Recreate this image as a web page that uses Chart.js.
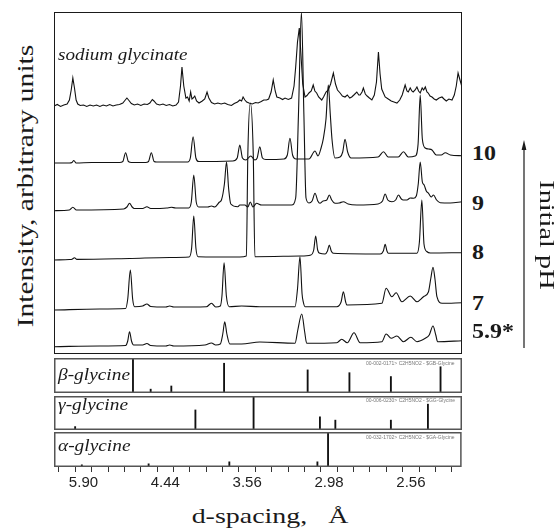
<!DOCTYPE html>
<html>
<head>
<meta charset="utf-8">
<script src="https://cdn.jsdelivr.net/npm/chart.js@4.4.1/dist/chart.umd.min.js"></script>
<style>
  html, body { margin: 0; padding: 0; background: #fff; }
  #page { position: relative; width: 559px; height: 531px; overflow: hidden;
          font-family: "Liberation Serif", "Times New Roman", serif; color: #1a1a1a; }
  canvas { position: absolute; }
  .txt { position: absolute; white-space: nowrap; line-height: 1; }
  .lft { transform-origin: 0 50%; }
  .ctr { transform-origin: 50% 50%; }
  .db  { font-family: "Liberation Sans", Arial, sans-serif; font-size: 5px; color: #777; }
  .ph  { font-weight: bold; font-size: 22px; transform: translateY(-50%) scaleX(1.09); }
  .phase { font-style: italic; font-size: 16px; transform: translateY(-50%) scaleX(1.21); }
</style>
</head>
<body>
<div id="page">
  <canvas id="patterns" width="408" height="342" style="left:54px;top:12px"></canvas>
  <canvas id="beta" width="408" height="35" style="left:54px;top:358px"></canvas>
  <canvas id="gamma" width="408" height="34" style="left:54px;top:396px"></canvas>
  <canvas id="alpha" width="408" height="63" style="left:54px;top:432px"></canvas>

  <div class="txt ctr" style="left:25px;top:186px;font-size:24px;transform:translate(-50%,-50%) rotate(-90deg) scaleX(1.23)">Intensity, arbitrary units</div>
  <div class="txt ctr" style="left:270px;top:516px;font-size:21px;transform:translate(-50%,-50%) scaleX(1.33)">d-spacing,&nbsp;&nbsp;&nbsp;Å</div>

  <div class="txt lft" style="left:58px;top:55px;font-size:16px;font-style:italic;transform:translateY(-50%) scaleX(1.19)">sodium glycinate</div>
  <div class="txt lft phase" style="left:58px;top:375px">β-glycine</div>
  <div class="txt lft phase" style="left:58px;top:405px">γ-glycine</div>
  <div class="txt lft phase" style="left:58px;top:446px">α-glycine</div>

  <div class="txt db" style="left:366px;top:361px">00-002-0171&gt; C2H5NO2 - $GB-Glycine</div>
  <div class="txt db" style="left:366px;top:398px">00-006-0230&gt; C2H5NO2 - $GG-Glycine</div>
  <div class="txt db" style="left:366px;top:435px">00-032-1702&gt; C2H5NO2 - $GA-Glycine</div>

  <div class="txt lft ph" style="left:472px;top:153px">10</div>
  <div class="txt lft ph" style="left:472px;top:203px">9</div>
  <div class="txt lft ph" style="left:472px;top:252px">8</div>
  <div class="txt lft ph" style="left:472px;top:303px">7</div>
  <div class="txt lft ph" style="left:472px;top:331px">5.9*</div>

  <svg style="position:absolute;left:0;top:0" width="559" height="531">
    <line x1="524" y1="348" x2="524" y2="148" stroke="#1a1a1a" stroke-width="1.2"/>
    <polygon points="524,140 521.6,150 526.4,150" fill="#1a1a1a"/>
  </svg>
  <div class="txt ctr" style="left:547px;top:235px;font-size:20px;transform:translate(-50%,-50%) rotate(90deg) scaleX(1.42)">Initial pH</div>
</div>

<script>
// 2-theta window (Cu K-alpha) shown on every panel
const twoThetaMin = 13.2;
const twoThetaMax = 38.1;

// bottom axis is labelled in d-spacing at these 2-theta positions
const tickValues = [15, 20, 25, 30, 35];
const tickLabels = ['5.90', '4.44', '3.56', '2.98', '2.56'];

// stacked patterns, [2theta, intensity] with the offsets already applied
const sodiumGlycinate = [
  [13.21, 248], [13.40, 249.5], [13.60, 247.5], [13.80, 249], [14.00, 250], [14.14, 254], [14.25, 264],
  [14.35, 276], [14.45, 266], [14.55, 254], [14.65, 250], [14.80, 248.5], [15.00, 249], [15.20, 247.5],
  [15.40, 249], [15.60, 248], [15.80, 249], [16.00, 247.5], [16.20, 249], [16.40, 248], [16.60, 249.5],
  [16.80, 248], [17.00, 249], [17.20, 249.5], [17.40, 251], [17.55, 254], [17.65, 256], [17.75, 254],
  [17.92, 250.5], [18.10, 249], [18.30, 250], [18.50, 248.5], [18.70, 250], [18.90, 249.5], [19.05, 251],
  [19.20, 254.5], [19.30, 253], [19.46, 250], [19.65, 249], [19.85, 250], [20.05, 248.5], [20.25, 249.5],
  [20.45, 248], [20.65, 249], [20.80, 252], [20.92, 268], [21.01, 287], [21.12, 268], [21.25, 256],
  [21.35, 257], [21.45, 253], [21.54, 262], [21.62, 255], [21.69, 256], [21.79, 258], [21.90, 253],
  [22.05, 251], [22.25, 253], [22.40, 255], [22.54, 262], [22.65, 256], [22.81, 251.5], [23.00, 250],
  [23.20, 251], [23.40, 250], [23.62, 251], [23.80, 249.5], [24.03, 248.5], [24.20, 250.5], [24.40, 252],
  [24.54, 254], [24.65, 253], [24.74, 257], [24.85, 254], [24.96, 252], [25.10, 251], [25.30, 250],
  [25.50, 251.5], [25.66, 251], [25.85, 252.5], [26.00, 254], [26.17, 254], [26.30, 255], [26.45, 262],
  [26.58, 274], [26.70, 263], [26.80, 257], [26.99, 256], [27.15, 254.5], [27.30, 256], [27.50, 254.5],
  [27.70, 256], [27.85, 268], [27.95, 287], [28.06, 312], [28.17, 326], [28.27, 300], [28.38, 270],
  [28.52, 257], [28.64, 258.5], [28.76, 261], [28.90, 263], [29.02, 269], [29.12, 263], [29.23, 261],
  [29.35, 257], [29.54, 254], [29.65, 257], [29.80, 262], [29.94, 264], [30.08, 270], [30.25, 281],
  [30.38, 270], [30.50, 264], [30.66, 261], [30.80, 258], [30.96, 257], [31.10, 259], [31.25, 256],
  [31.37, 257], [31.50, 259], [31.68, 262], [31.80, 259], [31.88, 259], [32.00, 262], [32.08, 266],
  [32.20, 260], [32.31, 258], [32.45, 256], [32.60, 254], [32.75, 259], [32.88, 272], [33.00, 302],
  [33.10, 280], [33.20, 265], [33.41, 257], [33.60, 255], [33.78, 253], [33.95, 252], [34.13, 251],
  [34.30, 254], [34.45, 259], [34.63, 269], [34.74, 263], [34.82, 262], [34.94, 266], [35.04, 263],
  [35.12, 262], [35.24, 264], [35.35, 267], [35.45, 263], [35.55, 261], [35.67, 266], [35.76, 264],
  [35.86, 267], [35.96, 262], [36.04, 261], [36.15, 258], [36.27, 257], [36.40, 255], [36.53, 254],
  [36.70, 256], [36.88, 257], [37.00, 255], [37.14, 253], [37.30, 255], [37.49, 254], [37.63, 259],
  [37.75, 268], [37.86, 281], [37.96, 275], [38.10, 267]
];

const ph10 = [
  [13.21, 191], [14.14, 191], [14.30, 191.5], [14.41, 193.5], [14.55, 191], [15.50, 191.5], [17.20, 191.5],
  [17.40, 192.5], [17.57, 201.3], [17.74, 192.5], [17.94, 191.5], [18.79, 191.5], [18.97, 192.5],
  [19.14, 201.3], [19.31, 192.5], [19.46, 192], [21.36, 192], [21.52, 196], [21.69, 217.3], [21.86, 196],
  [22.03, 192.5], [24.11, 193], [24.38, 196], [24.54, 209], [24.70, 196], [24.91, 194], [25.21, 198],
  [25.46, 194], [25.60, 196], [25.76, 207.3], [25.92, 196], [26.13, 194.5], [27.23, 195], [27.44, 199],
  [27.60, 215.7], [27.76, 199], [27.97, 195], [28.76, 195], [29.13, 203], [29.31, 198], [29.50, 206],
  [29.64, 215.7], [29.80, 235], [29.94, 269], [30.06, 240], [30.17, 214], [30.35, 196], [30.66, 197],
  [30.82, 202], [30.96, 214.7], [31.12, 202], [31.33, 196], [32.98, 197], [33.31, 202.3], [33.59, 197],
  [34.21, 197], [34.53, 202.3], [34.82, 197], [35.24, 198], [35.42, 210], [35.55, 259], [35.68, 215],
  [35.86, 206], [36.06, 205], [36.27, 204], [36.53, 199], [36.83, 199], [37.08, 201.3], [37.39, 199],
  [38.10, 198.3]
];

const ph9 = [
  [13.21, 143.3], [14.14, 144], [14.35, 146.7], [14.57, 144], [17.45, 145], [17.65, 147], [17.81, 150.7],
  [17.97, 147], [18.10, 145.5], [18.61, 145.5], [18.87, 147.3], [19.10, 145.5], [20.08, 146], [20.36, 146.7],
  [20.63, 146], [21.42, 146], [21.58, 152], [21.73, 179], [21.88, 152], [22.03, 147], [22.58, 147],
  [22.81, 148], [23.01, 147], [23.30, 152], [23.42, 154], [23.60, 170], [23.73, 192], [23.86, 165],
  [23.99, 150], [24.42, 147.3], [24.54, 149], [24.85, 149], [25.03, 147], [25.18, 152], [25.34, 147],
  [25.56, 150.7], [25.87, 149], [27.70, 149], [27.95, 156], [28.12, 240], [28.30, 342], [28.45, 240],
  [28.58, 156], [28.76, 151], [28.95, 153], [29.13, 160.7], [29.30, 153], [29.43, 150.7], [29.62, 153],
  [29.85, 154], [30.00, 159], [30.15, 154], [30.35, 150.7], [30.60, 151], [30.86, 152.3], [31.15, 150],
  [31.68, 149], [32.98, 150], [33.25, 153], [33.41, 160], [33.57, 154], [33.82, 152.3], [34.05, 154],
  [34.22, 159], [34.40, 155], [34.51, 154], [34.74, 154], [34.94, 156], [35.14, 155.7], [35.31, 158],
  [35.43, 170], [35.55, 192], [35.68, 172], [35.79, 169], [35.92, 163], [36.06, 160.7], [36.22, 157],
  [36.36, 159], [36.55, 154], [36.77, 151.3], [37.39, 151], [38.10, 152.3]
];

const ph8 = [
  [13.21, 94], [14.14, 94.5], [14.30, 94.8], [14.45, 96.3], [14.60, 94.6], [17.81, 95.5], [20.26, 96.5],
  [21.45, 97], [21.60, 106], [21.73, 138], [21.86, 106], [21.99, 97.3], [24.54, 97], [24.94, 98],
  [25.03, 200], [25.18, 251], [25.36, 200], [25.46, 97.3], [28.21, 98], [28.88, 99], [29.05, 104],
  [29.17, 118], [29.29, 104], [29.43, 100.7], [29.74, 100], [29.89, 103], [30.00, 109], [30.12, 103],
  [30.25, 100.7], [33.11, 100], [33.30, 103], [33.41, 109.7], [33.52, 103], [33.61, 100.7], [35.35, 100.7],
  [35.50, 112], [35.65, 154], [35.78, 110], [35.95, 102.5], [36.17, 101], [38.10, 101.3]
];

const ph7 = [
  [13.21, 44], [15.98, 45], [17.57, 45.5], [17.70, 55], [17.86, 84], [18.00, 55], [18.12, 47.3],
  [18.61, 48], [18.87, 50], [19.10, 47.5], [20.02, 47], [20.26, 48], [20.51, 47], [22.50, 47.3],
  [22.81, 50.7], [23.07, 47], [23.35, 48], [23.45, 58], [23.58, 91.3], [23.72, 58], [23.89, 47.3],
  [24.65, 48], [25.76, 47.3], [27.91, 47.3], [28.06, 65], [28.21, 97.3], [28.34, 60], [28.41, 52.3],
  [28.52, 47.3], [30.46, 47.3], [30.72, 52], [30.86, 62.3], [31.00, 52], [31.07, 49], [33.21, 50.7],
  [33.47, 65.7], [33.82, 57.3], [34.08, 61.3], [34.43, 52.3], [34.94, 58], [35.35, 52.3], [35.75, 57.3],
  [36.05, 62], [36.20, 76], [36.33, 86.7], [36.45, 75], [36.57, 57.3], [36.88, 50.7], [38.10, 51.3]
];

const ph59 = [
  [13.21, 7.3], [15.98, 8], [17.57, 8.5], [17.70, 13], [17.81, 22.3], [17.93, 13], [18.06, 9],
  [18.61, 9], [18.87, 10.5], [19.10, 8.5], [20.02, 8], [20.26, 9], [20.51, 8], [22.41, 9],
  [22.81, 11], [23.07, 9], [23.35, 10], [23.50, 20], [23.62, 32.3], [23.75, 20], [23.93, 10],
  [24.65, 10], [25.76, 12], [27.91, 10.7], [28.08, 24], [28.32, 40], [28.50, 22], [28.62, 10.7],
  [30.46, 11.3], [30.76, 14.7], [31.10, 11.3], [31.51, 21.3], [31.88, 11.3], [33.21, 12.3], [33.47, 20],
  [33.78, 15.7], [34.13, 18], [34.53, 12.3], [34.98, 16.7], [35.35, 12.3], [35.86, 15.7], [36.10, 19],
  [36.33, 28], [36.50, 19], [36.61, 12.3], [38.10, 13.3]
];

// reference stick patterns (relative intensity, %)
const betaPos = [18.02, 19.10, 20.36, 23.58, 28.68, 31.23, 33.76, 36.79];
const betaInt = [100, 11, 20, 85, 66, 58, 47, 75];
const gammaPos = [14.49, 21.83, 25.38, 29.43, 30.37, 33.76, 36.02];
const gammaInt = [10, 59, 100, 39, 29, 29, 76];
const alphaPos = [14.90, 18.98, 23.91, 29.29, 29.94];
const alphaInt = [6, 9, 15, 15, 100];

// box around each plot area
const framePlugin = {
  id: 'frame',
  afterDraw(chart, args, opts) {
    const { ctx, chartArea: a } = chart;
    const w = opts.width || 1;
    ctx.save();
    ctx.strokeStyle = opts.color || '#1a1a1a';
    ctx.lineWidth = w;
    ctx.strokeRect(a.left + w / 2, a.top + w / 2, a.width - w, a.height - w);
    ctx.restore();
  }
};

function baseOptions(yMax, frame) {
  return {
    responsive: false,
    animation: false,
    events: [],
    layout: { padding: 0 },
    plugins: { legend: { display: false }, tooltip: { enabled: false }, frame: frame },
    scales: {
      x: { type: 'linear', min: twoThetaMin, max: twoThetaMax, offset: false, display: false },
      y: { min: 0, max: yMax, display: false }
    }
  };
}

function toPoints(rows) {
  return rows.map(([x, y]) => ({ x, y }));
}

// main stacked patterns
const traces = [sodiumGlycinate, ph10, ph9, ph8, ph7, ph59];
new Chart(document.getElementById('patterns'), {
  type: 'line',
  data: {
    datasets: traces.map((rows, i) => ({
      data: toPoints(rows),
      borderColor: '#111',
      borderWidth: 1.1,
      pointRadius: 0,
      fill: false,
      tension: 0,
      cubicInterpolationMode: i === 0 ? 'default' : 'monotone'
    }))
  },
  options: baseOptions(342, { color: '#1a1a1a', width: 1 }),
  plugins: [framePlugin]
});

function stickChart(id, pos, inten, withAxis) {
  const opts = baseOptions(100, { color: '#555', width: 1.5 });
  if (withAxis) {
    opts.scales.x = {
      type: 'linear',
      min: twoThetaMin,
      max: twoThetaMax,
      offset: false,
      display: true,
      afterFit: (scale) => { scale.height = 28; },
      border: { display: false },
      grid: { drawOnChartArea: false, drawTicks: true, tickLength: 5, color: '#333', lineWidth: 1 },
      ticks: {
        stepSize: 1,
        autoSkip: false,
        includeBounds: false,
        maxRotation: 0,
        padding: 2,
        color: '#222',
        font: { family: 'Liberation Sans', size: 15 },
        callback: (v) => {
          const k = tickValues.indexOf(v);
          return k >= 0 ? tickLabels[k] : '';
        }
      }
    };
  }
  return new Chart(document.getElementById(id), {
    type: 'bar',
    data: {
      datasets: [{
        data: pos.map((x, i) => ({ x, y: inten[i] })),
        backgroundColor: '#111',
        borderWidth: 0,
        barThickness: 1.2
      }]
    },
    options: opts,
    plugins: [framePlugin]
  });
}

stickChart('beta', betaPos, betaInt, false);
stickChart('gamma', gammaPos, gammaInt, false);
stickChart('alpha', alphaPos, alphaInt, true);
</script>
</body>
</html>
